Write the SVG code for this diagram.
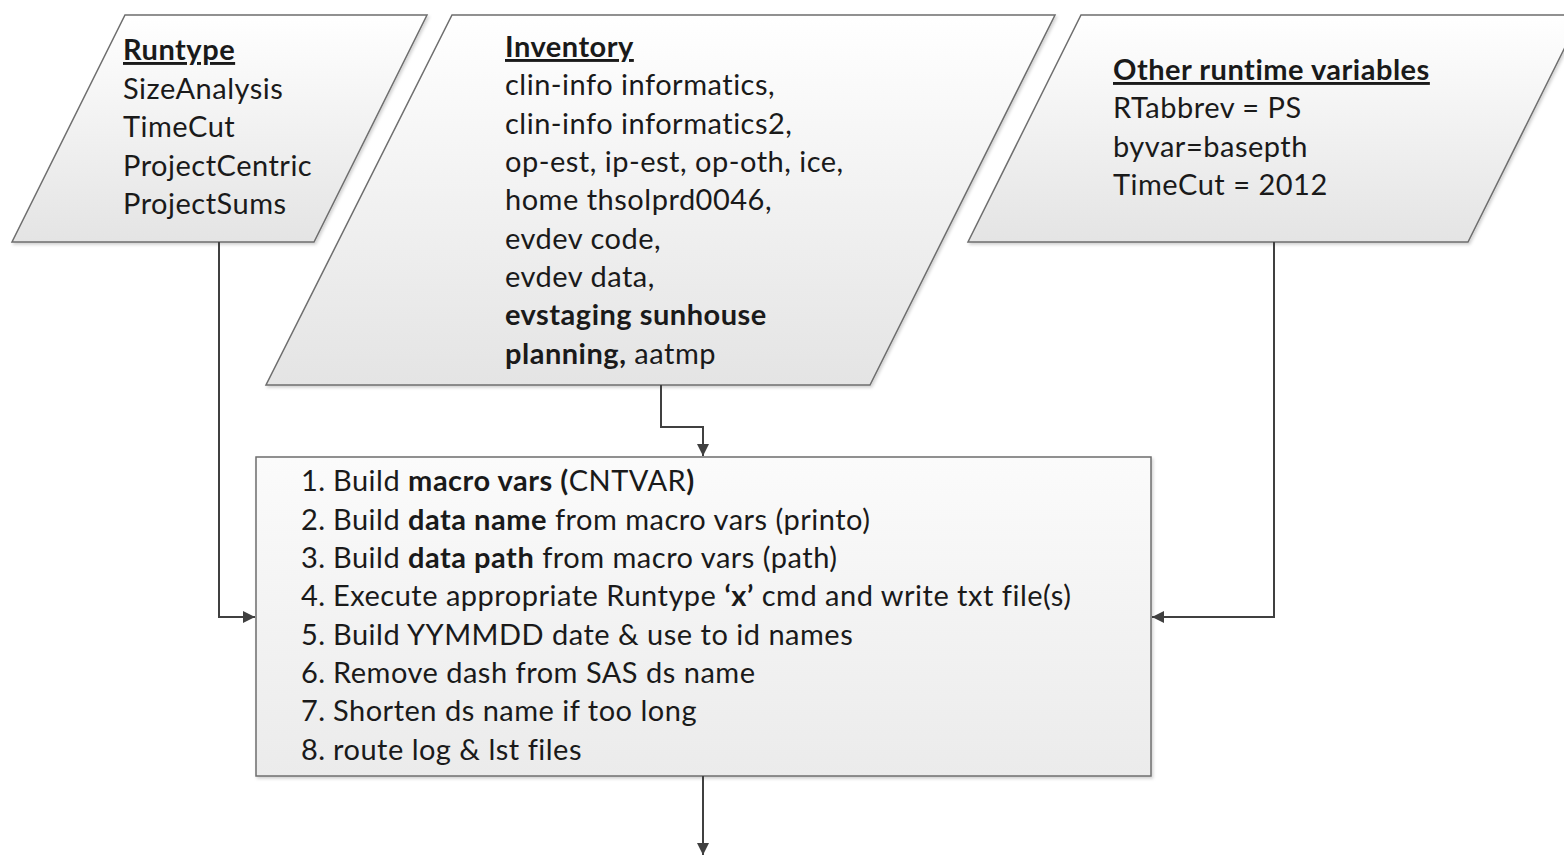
<svg xmlns="http://www.w3.org/2000/svg" width="1564" height="855" viewBox="0 0 1564 855">
  <style>
    .shape { stroke: #6e6e6e; stroke-width: 1.5; }
    .io { fill: url(#ioFill); }
    .proc { fill: url(#procFill); }
    .wire { fill: none; stroke: #404040; stroke-width: 2; }
    text { font-family: Lato, "Liberation Sans", sans-serif; font-size: 29px; letter-spacing: 0.5px; fill: #1a1a1a; }
    .title { font-weight: bold; text-decoration: underline; }
    .b { font-weight: bold; }
  </style>
  <defs>
    <linearGradient id="ioFill" x1="0" y1="0" x2="0" y2="1">
      <stop offset="0" stop-color="#ffffff"/>
      <stop offset="1" stop-color="#e4e4e4"/>
    </linearGradient>
    <linearGradient id="procFill" x1="0" y1="0" x2="0" y2="1">
      <stop offset="0" stop-color="#fbfbfb"/>
      <stop offset="1" stop-color="#ebebeb"/>
    </linearGradient>
    <filter id="shadow" x="-5%" y="-5%" width="110%" height="115%">
      <feDropShadow dx="1.5" dy="2" stdDeviation="1.5" flood-color="#000" flood-opacity="0.18"/>
    </filter>
    <marker id="arrow" viewBox="0 0 12 12" refX="12" refY="6" markerWidth="12" markerHeight="12" markerUnits="userSpaceOnUse" orient="auto">
      <path d="M0,0 L12,6 L0,12 Z" fill="#404040"/>
    </marker>
  </defs>

  <!-- Runtype input -->
  <g id="runtype">
    <polygon class="shape io" filter="url(#shadow)" points="125,15 427,15 314,242 12,242"/>
    <text x="123" y="60" class="title">Runtype</text>
    <text x="123" y="99">SizeAnalysis</text>
    <text x="123" y="137">TimeCut</text>
    <text x="123" y="176">ProjectCentric</text>
    <text x="123" y="214">ProjectSums</text>
  </g>

  <!-- Inventory input -->
  <g id="inventory">
    <polygon class="shape io" filter="url(#shadow)" points="452,15 1055,15 870,385 266,385"/>
    <text x="505" y="57" class="title">Inventory</text>
    <text x="505" y="95">clin-info informatics,</text>
    <text x="505" y="134">clin-info informatics2,</text>
    <text x="505" y="172">op-est, ip-est, op-oth, ice,</text>
    <text x="505" y="210">home thsolprd0046,</text>
    <text x="505" y="249">evdev code,</text>
    <text x="505" y="287">evdev data,</text>
    <text x="505" y="325" class="b">evstaging sunhouse</text>
    <text x="505" y="364"><tspan class="b">planning,</tspan> aatmp</text>
  </g>

  <!-- Other runtime variables input -->
  <g id="other-vars">
    <polygon class="shape io" filter="url(#shadow)" points="1081,15 1581,15 1468,242 968,242"/>
    <text x="1113" y="80" class="title">Other runtime variables</text>
    <text x="1113" y="118">RTabbrev = PS</text>
    <text x="1113" y="157">byvar=basepth</text>
    <text x="1113" y="195">TimeCut = 2012</text>
  </g>

  <!-- Processing steps -->
  <g id="process">
    <rect class="shape proc" filter="url(#shadow)" x="256" y="457" width="895" height="319"/>
    <text x="301" y="491">1.</text>
    <text x="333" y="491">Build <tspan class="b">macro vars (</tspan>CNTVAR<tspan class="b">)</tspan></text>
    <text x="301" y="530">2.</text>
    <text x="333" y="530">Build <tspan class="b">data name</tspan> from macro vars (printo)</text>
    <text x="301" y="568">3.</text>
    <text x="333" y="568">Build <tspan class="b">data path</tspan> from macro vars (path)</text>
    <text x="301" y="606">4.</text>
    <text x="333" y="606">Execute appropriate Runtype <tspan class="b">‘x’</tspan> cmd and write txt file(s)</text>
    <text x="301" y="645">5.</text>
    <text x="333" y="645">Build YYMMDD date &amp; use to id names</text>
    <text x="301" y="683">6.</text>
    <text x="333" y="683">Remove dash from SAS ds name</text>
    <text x="301" y="721">7.</text>
    <text x="333" y="721">Shorten ds name if too long</text>
    <text x="301" y="760">8.</text>
    <text x="333" y="760">route log &amp; lst files</text>
  </g>

  <!-- Connectors -->
  <g id="connectors">
    <polyline class="wire" points="219,242 219,617 255,617" marker-end="url(#arrow)"/>
    <polyline class="wire" points="661,385 661,427 703,427 703,456" marker-end="url(#arrow)"/>
    <polyline class="wire" points="1274,242 1274,617 1152,617" marker-end="url(#arrow)"/>
    <polyline class="wire" points="703,776 703,855" marker-end="url(#arrow)"/>
  </g>
</svg>
